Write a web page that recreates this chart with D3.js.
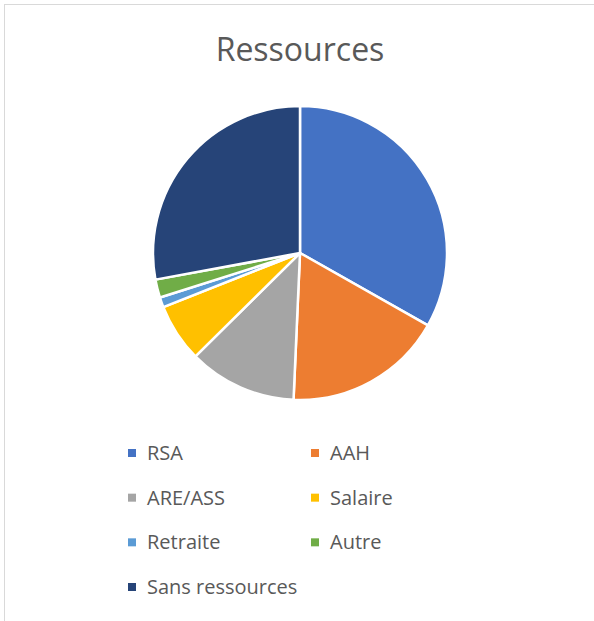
<!DOCTYPE html>
<html>
<head>
<meta charset="utf-8">
<script src="https://cdn.jsdelivr.net/npm/d3@7"></script>
<style>
  body { margin: 0; background: #fff; }
  svg { display: block; }
</style>
</head>
<body>
<svg id="chart" width="594" height="621"></svg>
<script>
// Data (share of each slice, %)
const categories = ['RSA', 'AAH', 'ARE/ASS', 'Salaire', 'Retraite', 'Autre', 'Sans ressources'];
const values = [33.2, 17.5, 11.9, 6.4, 1.1, 2.0, 27.9];
const colors = ['#4472c4', '#ed7d31', '#a5a5a5', '#ffc000', '#5b9bd5', '#70ad47', '#264478'];

const svg = d3.select('#chart');
const font = '"Open Sans", "DejaVu Sans", sans-serif';

// chart frame, only left and top edges are visible in the window
svg.append('rect')
    .attr('x', 4.5).attr('y', 4.5)
    .attr('width', 700).attr('height', 700)
    .style('fill', 'none')
    .style('stroke', '#d9d9d9')
    .style('stroke-width', 1);

// Title
svg.append('text')
    .attr('x', 300)
    .attr('y', 61)
    .attr('text-anchor', 'middle')
    .style('font-family', font)
    .style('font-size', '32px')
    .style('fill', '#595959')
    .text('Ressources');

// Pie
const cx = 300, cy = 253, radius = 147;
const data = categories.map((c, i) => ({ name: c, value: values[i], color: colors[i] }));

const pie = d3.pie().value(d => d.value).sort(null);
const arc = d3.arc().innerRadius(0).outerRadius(radius);

const g = svg.append('g').attr('transform', `translate(${cx},${cy})`);
g.selectAll('path.slice')
    .data(pie(data))
    .enter()
    .append('path')
    .attr('class', 'slice')
    .attr('d', arc)
    .style('fill', d => d.data.color)
    .style('stroke', '#fff')
    .style('stroke-width', 2.5)
    .style('stroke-linejoin', 'round');

// Legend, two columns
const colX = d3.scalePoint().domain([0, 1]).range([128, 311]);
const rowY = d3.scaleLinear().domain([0, 3]).range([453, 587]);

const legend = svg.selectAll('g.legend-item')
    .data(data)
    .enter()
    .append('g')
    .attr('class', 'legend-item')
    .attr('transform', (d, i) => `translate(${colX(i % 2)},${rowY(Math.floor(i / 2))})`);

legend.append('rect')
    .attr('x', 0).attr('y', -4)
    .attr('width', 8).attr('height', 8)
    .style('fill', d => d.color);

legend.append('text')
    .attr('x', 19)
    .attr('dy', '0.35em')
    .style('font-family', font)
    .style('font-size', '20px')
    .style('fill', '#595959')
    .text(d => d.name);
</script>
</body>
</html>
